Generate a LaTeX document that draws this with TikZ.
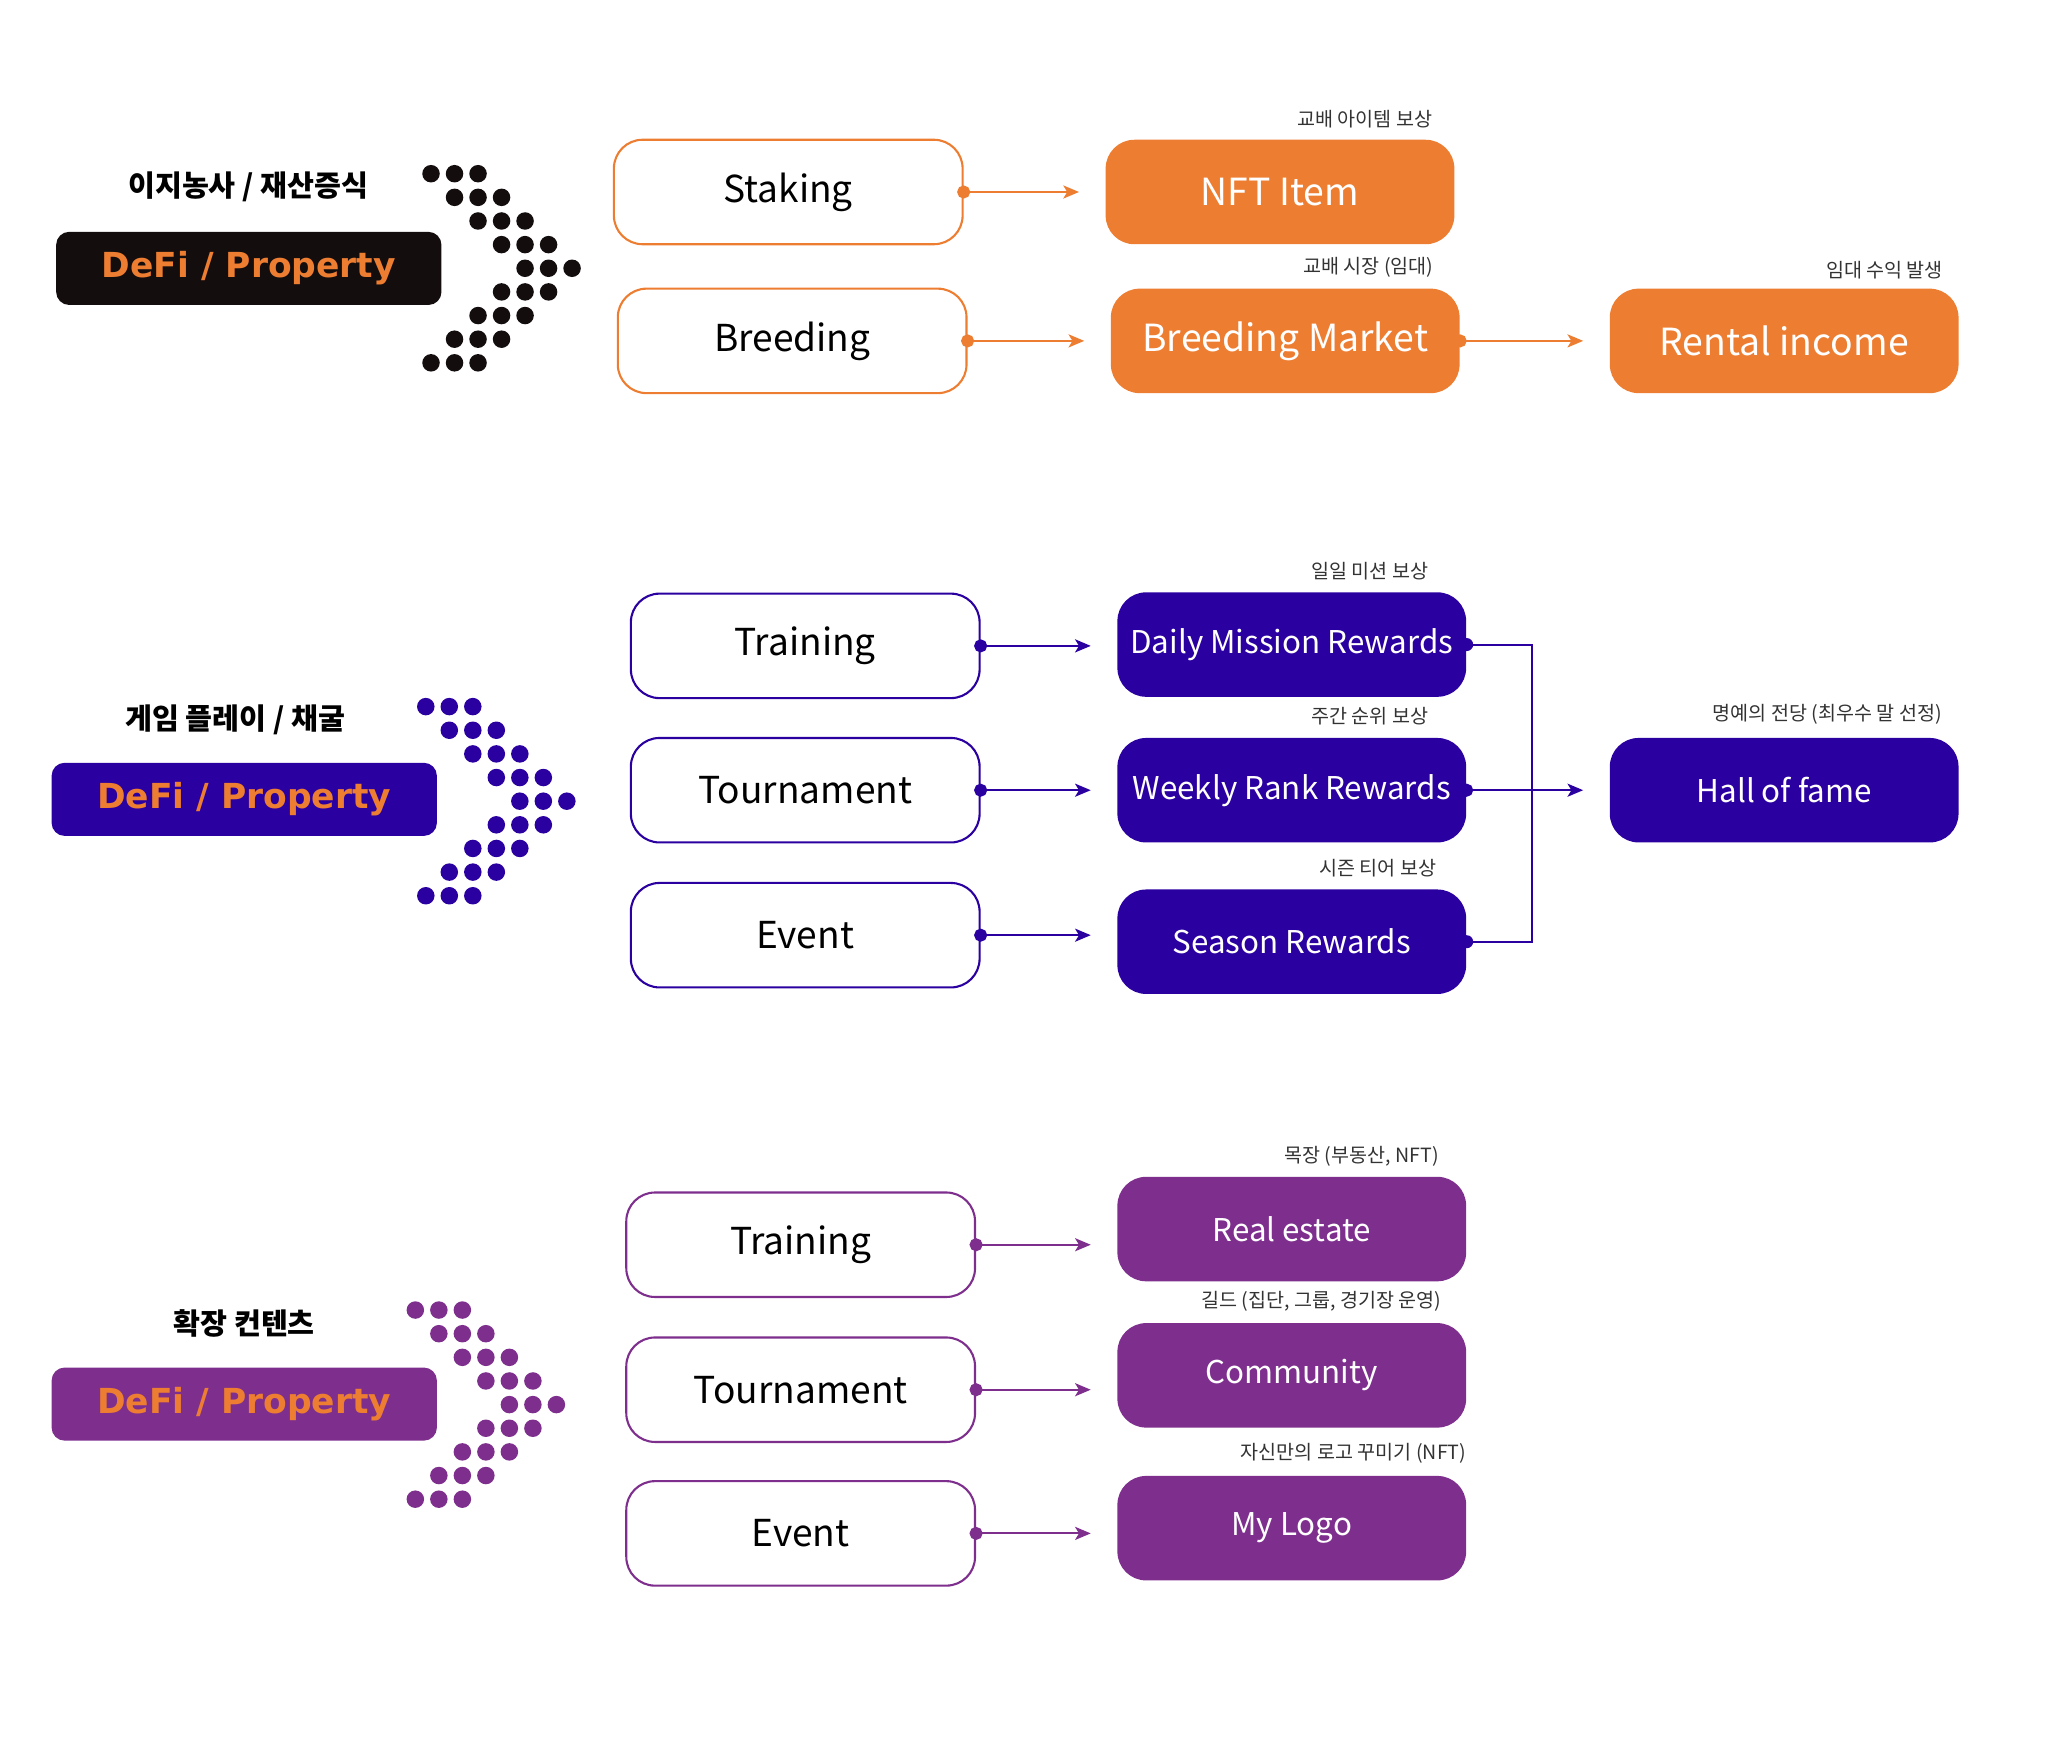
\documentclass[tikz,border=0pt]{standalone}
\usepackage{fontspec}
\usepackage{xcolor}
\usetikzlibrary{arrows.meta}

\newfontfamily\krfont{Noto Sans CJK KR}
\newfontfamily\defifont{DejaVu Sans}

\definecolor{farmorange}{HTML}{ED7D31}
\definecolor{gameblue}{HTML}{2B00A0}
\definecolor{extpurple}{HTML}{7E2F8E}
\definecolor{boxblack}{HTML}{130D0E}

\begin{document}
\begin{tikzpicture}[x=0.5pt,y=-0.5pt,
  title/.style={font=\krfont\bfseries\fontsize{11.2}{13}\selectfont},
  defi/.style={rounded corners=5pt, minimum width=147.5pt, minimum height=28pt, inner sep=0pt,
    text=farmorange, font=\defifont\bfseries\fontsize{13.2}{15}\selectfont},
  srcbox/.style={draw=#1, line width=0.8pt, fill=white, rounded corners=11pt, minimum width=133.5pt,
    minimum height=40pt, inner sep=0pt, font=\krfont\fontsize{14.2}{16}\selectfont},
  outbox/.style={fill=#1, rounded corners=11pt, minimum width=133.5pt, minimum height=40pt,
    inner sep=0pt, text=white, font=\krfont\fontsize{12}{14}\selectfont},
  bigtext/.style={font=\krfont\fontsize{14.3}{16}\selectfont},
  note/.style={anchor=east, inner sep=0pt, text=black!80, font=\krfont\fontsize{7.5}{8.5}\selectfont},
  flow/.style={draw=#1, line width=0.8pt, {Circle[length=5pt]}-{Stealth[length=6pt,width=5pt,inset=1.5pt]},
    shorten <=-2.5pt, shorten >=10pt},
]
  % Fix the page size
  \useasboundingbox (0,0) rectangle (1568,1336);

  % ---- 이지농사 / 재산증식 ----
  \node[title] (t1) at (190,143) {이지농사 / 재산증식};
  \node[defi, fill=boxblack] (d1) at (190.5,205.5) {DeFi / Property};
  \foreach \r in {0,...,8}
    \foreach \c in {0,1,2}
      \pgfmathsetmacro{\k}{4-abs(\r-4)}
      \fill[boxblack] (330+18*\k+18*\c,133+18.1*\r) circle (6.7);

  \node[srcbox=farmorange] (stak) at (603.5,147) {Staking};
  \node[srcbox=farmorange] (bree) at (606.5,261) {Breeding};
  \node[outbox=farmorange, bigtext] (nft) at (980,147) {NFT Item};
  \node[outbox=farmorange, bigtext] (bmkt) at (984,261) {Breeding Market};
  \node[outbox=farmorange, bigtext] (rent) at (1366,261) {Rental income};
  \node[note] (n1) at (1097,91) {교배 아이템 보상};
  \node[note] (n2) at (1098,205) {교배 시장 (임대)};
  \node[note] (n3) at (1488,207) {임대 수익 발생};

  \draw[flow=farmorange] (stak.east) -- (stak.east -| nft.west);
  \draw[flow=farmorange] (bree.east) -- (bree.east -| bmkt.west);
  \draw[flow=farmorange] (bmkt.east) -- (bmkt.east -| rent.west);

  % ---- 게임 플레이 / 채굴 ----
  \node[title] (t2) at (180,551) {게임 플레이 / 채굴};
  \node[defi, fill=gameblue] (d2) at (187,612) {DeFi / Property};
  \foreach \r in {0,...,8}
    \foreach \c in {0,1,2}
      \pgfmathsetmacro{\k}{4-abs(\r-4)}
      \fill[gameblue] (326+18*\k+18*\c,541+18.1*\r) circle (6.7);

  \node[srcbox=gameblue] (train2) at (616.5,494.5) {Training};
  \node[srcbox=gameblue] (tour2) at (616.5,605) {Tournament};
  \node[srcbox=gameblue] (event2) at (616.5,716) {Event};
  \node[outbox=gameblue] (daily) at (989,493.5) {Daily Mission Rewards};
  \node[outbox=gameblue] (weekly) at (989,605) {Weekly Rank Rewards};
  \node[outbox=gameblue] (season) at (989,721) {Season Rewards};
  \node[outbox=gameblue] (fame) at (1366,605) {Hall of fame};
  \node[note] (n4) at (1094,437) {일일 미션 보상};
  \node[note] (n5) at (1094,548) {주간 순위 보상};
  \node[note] (n6) at (1100,665) {시즌 티어 보상};
  \node[note] (n7) at (1487,547) {명예의 전당 (최우수 말 선정)};

  \draw[flow=gameblue] (train2.east) -- (train2.east -| daily.west);
  \draw[flow=gameblue] (tour2.east) -- (tour2.east -| weekly.west);
  \draw[flow=gameblue] (event2.east) -- (event2.east -| season.west);
  \draw[flow=gameblue] (weekly.east) -- (weekly.east -| fame.west);
  \draw[gameblue, line width=0.8pt] (daily.east) -- ++(50,0) |- (season.east);
  \fill[gameblue] (daily.east) circle (5);
  \fill[gameblue] (season.east) circle (5);

  % ---- 확장 컨텐츠 ----
  \node[title] (t3) at (187,1013) {확장 컨텐츠};
  \node[defi, fill=extpurple] (d3) at (187,1075) {DeFi / Property};
  \foreach \r in {0,...,8}
    \foreach \c in {0,1,2}
      \pgfmathsetmacro{\k}{4-abs(\r-4)}
      \fill[extpurple] (318+18*\k+18*\c,1003+18.1*\r) circle (6.7);

  \node[srcbox=extpurple] (train3) at (613,953) {Training};
  \node[srcbox=extpurple] (tour3) at (613,1064) {Tournament};
  \node[srcbox=extpurple] (event3) at (613,1174) {Event};
  \node[outbox=extpurple] (estate) at (989,941) {Real estate};
  \node[outbox=extpurple] (guild) at (989,1053) {Community};
  \node[outbox=extpurple] (logo) at (989,1170) {My Logo};
  \node[note] (n8) at (1102,885) {목장 (부동산, NFT)};
  \node[note] (n9) at (1104,996) {길드 (집단, 그룹, 경기장 운영)};
  \node[note] (n10) at (1123,1113) {자신만의 로고 꾸미기 (NFT)};

  \draw[flow=extpurple] (train3.east) -- (train3.east -| estate.west);
  \draw[flow=extpurple] (tour3.east) -- (tour3.east -| guild.west);
  \draw[flow=extpurple] (event3.east) -- (event3.east -| logo.west);
\end{tikzpicture}
\end{document}
